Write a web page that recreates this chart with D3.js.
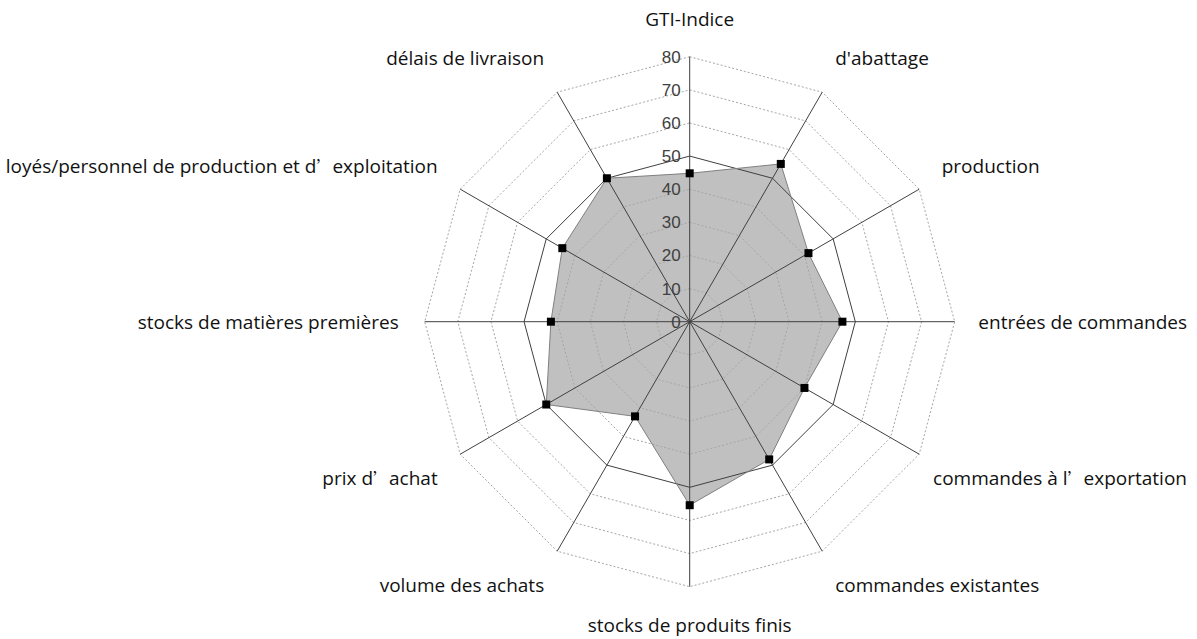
<!DOCTYPE html>
<meta charset="utf-8">
<style>
  body { margin: 0; background: #fff; }
  svg { display: block; }
</style>
<svg width="1197" height="639"></svg>
<script src="https://d3js.org/d3.v7.min.js"></script>
<script>

    // data
    var categories = [
        "GTI-Indice", "d'abattage", "production", "entrées de commandes",
        "commandes à l’exportation", "commandes existantes", "stocks de produits finis",
        "volume des achats", "prix d’achat", "stocks de matières premières",
        "loyés/personnel de production et d’exploitation", "délais de livraison"
    ];
    var values = [44.8, 55, 41.4, 46.1, 40, 48, 55.4, 33, 50, 41.9, 44.4, 50];
    var ticks = [0, 10, 20, 30, 40, 50, 60, 70, 80];

    var svg = d3.select("svg"),
        width = +svg.attr("width"),
        height = +svg.attr("height");

    var cx = 689.7, cy = 321.7, R = 265;
    var n = categories.length;

    var r = d3.scaleLinear().domain([0, 80]).range([0, R]);
    var angle = d3.scaleLinear().domain([0, n]).range([0, 2 * Math.PI]);

    var g = svg.append("g").attr("transform", "translate(" + cx + "," + cy + ")");

    function pt(i, v) {
        var a = angle(i);
        return [r(v) * Math.sin(a), -r(v) * Math.cos(a)];
    }

    // filled area first
    var line = d3.line().curve(d3.curveLinearClosed);
    g.append("path")
        .attr("d", line(values.map(function(v, i) { return pt(i, v); })))
        .attr("fill", "#c0c0c0")
        .attr("stroke", "none");

    // grid rings
    g.selectAll(".ring")
        .data(ticks.slice(1))
        .enter().append("path")
        .attr("class", "ring")
        .attr("d", function(t) { return line(d3.range(n).map(function(i) { return pt(i, t); })); })
        .attr("fill", "none")
        .attr("stroke", function(t) { return t === 50 ? "#404040" : "#a6a6a6"; })
        .attr("stroke-width", 1)
        .attr("stroke-dasharray", function(t) { return t === 50 ? null : "2,2"; });

    // spokes
    g.selectAll(".spoke")
        .data(d3.range(n))
        .enter().append("line")
        .attr("x1", 0).attr("y1", 0)
        .attr("x2", function(i) { return pt(i, 80)[0]; })
        .attr("y2", function(i) { return pt(i, 80)[1]; })
        .attr("stroke", "#404040")
        .attr("stroke-width", 1);

    // series outline
    g.append("path")
        .attr("d", line(values.map(function(v, i) { return pt(i, v); })))
        .attr("fill", "none")
        .attr("stroke", "#808080")
        .attr("stroke-width", 1);

    // markers
    g.selectAll(".mk")
        .data(values)
        .enter().append("rect")
        .attr("x", function(v, i) { return pt(i, v)[0] - 4; })
        .attr("y", function(v, i) { return pt(i, v)[1] - 4; })
        .attr("width", 8).attr("height", 8)
        .attr("fill", "#000");

    // tick labels
    g.selectAll(".tick")
        .data(ticks)
        .enter().append("text")
        .attr("x", -9)
        .attr("y", function(t) { return -r(t); })
        .attr("dy", "0.35em")
        .attr("text-anchor", "end")
        .attr("font-family", "Liberation Sans, Arial, sans-serif")
        .attr("font-size", 17)
        .attr("fill", "#404040")
        .text(function(t) { return t; });

    // category labels
    var labels = g.selectAll(".cat")
        .data(categories)
        .enter().append("text")
        .attr("font-family", "'Open Sans', sans-serif")
        .attr("font-size", 19)
        .attr("fill", "#111")
        .attr("dominant-baseline", "central")
        .attr("text-anchor", function(d, i) {
            var s = Math.sin(angle(i));
            return s > 0.01 ? "start" : s < -0.01 ? "end" : "middle";
        })
        .attr("x", function(d, i) { return pt(i, 80)[0] + 26 * Math.sin(angle(i)); })
        .attr("y", function(d, i) {
            var c = Math.cos(angle(i));
            var off = Math.abs(c) < 0.01 ? 0 : (29 * Math.abs(c) + 9) * (c > 0 ? -1 : 1);
            return pt(i, 80)[1] + off;
        });

    // the curly apostrophe is drawn full width, as in the original
    labels.each(function(d) {
        var t = d3.select(this);
        d.split("’").forEach(function(part, k) {
            if (k > 0) {
                t.append("tspan")
                    .attr("font-family", "'Noto Sans CJK SC', sans-serif")
                    .attr("font-size", 16)
                    .text("’");
            }
            t.append("tspan").text(part);
        });
    });

    // keep labels inside the picture
    labels.each(function() {
        var b = this.getBBox();
        var right = cx + b.x + b.width;
        if (right > width - 10) {
            d3.select(this).attr("x", +d3.select(this).attr("x") - (right - (width - 10)));
        }
    });

</script>
